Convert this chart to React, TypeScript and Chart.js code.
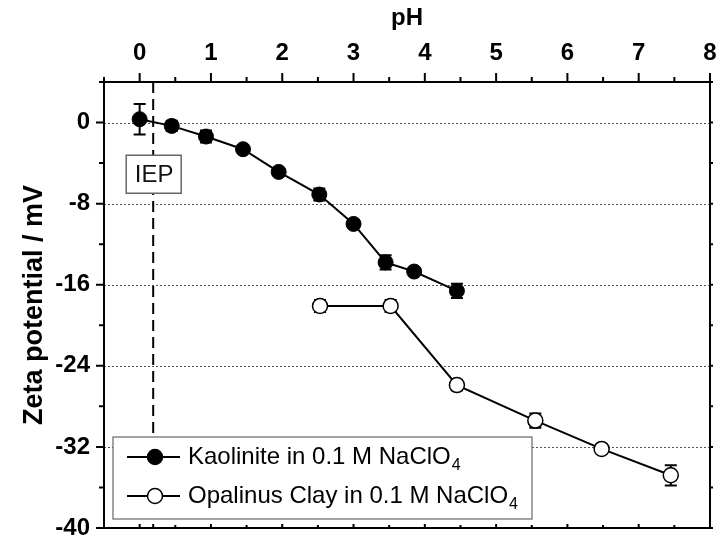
import React, { useEffect, useRef } from 'react';
import { Chart, registerables } from 'chart.js';

Chart.register(...registerables);

// ---- data ----
const kaoliniteLabel = 'Kaolinite in 0.1 M NaClO';
const opalinusLabel = 'Opalinus Clay in 0.1 M NaClO';
const labelSubscript = '4';

const kaolinitePH = [0, 0.45, 0.93, 1.45, 1.95, 2.52, 3.0, 3.45, 3.85, 4.45];
const kaoliniteZeta = [0.33, -0.33, -1.38, -2.63, -4.87, -7.1, -10.0, -13.8, -14.7, -16.6];
const kaoliniteErr = [1.5, 0.5, 0.6, 0.3, 0.3, 0.6, 0.3, 0.7, 0.3, 0.7];

const opalinusPH = [2.53, 3.52, 4.45, 5.55, 6.48, 7.45];
const opalinusZeta = [-18.1, -18.1, -25.9, -29.4, -32.2, -34.8];
const opalinusErr = [0.6, 0.6, 0.5, 0.7, 0.3, 1.0];

const iepPH = 0.19;
const iepLabel = 'IEP';

const xTitle = 'pH';
const yTitle = 'Zeta potential / mV';
const xMin = -0.5;
const xMax = 8;
const yMin = -40;
const yMax = 4;
const xTickValues = [0, 1, 2, 3, 4, 5, 6, 7, 8];
const xMinorValues = [-0.5, 0.5, 1.5, 2.5, 3.5, 4.5, 5.5, 6.5, 7.5];
const yTickValues = [0, -8, -16, -24, -32, -40];
const yMinorValues = [4, -4, -12, -20, -28, -36];
const yGridValues = [0, -8, -16, -24, -32];

const FONT = '"Liberation Sans", Arial, sans-serif';

const decorPlugin = {
  id: 'decor',
  beforeDatasetsDraw(chart: any) {
    const { ctx, chartArea: a, scales } = chart;
    const x = scales.x;
    const y = scales.y;
    ctx.save();
    // dotted gridlines
    ctx.strokeStyle = '#555';
    ctx.lineWidth = 1;
    ctx.setLineDash([2, 2]);
    for (const v of yGridValues) {
      const py = Math.round(y.getPixelForValue(v)) + 0.5;
      ctx.beginPath();
      ctx.moveTo(a.left, py);
      ctx.lineTo(a.right, py);
      ctx.stroke();
    }
    // IEP dashed line
    const ix = x.getPixelForValue(iepPH);
    ctx.strokeStyle = '#000';
    ctx.lineWidth = 2;
    ctx.setLineDash([11, 6]);
    ctx.beginPath();
    ctx.moveTo(ix, a.top);
    ctx.lineTo(ix, a.bottom);
    ctx.stroke();
    ctx.setLineDash([]);
    // error bars
    const errs = [kaoliniteErr, opalinusErr];
    const vals = [kaoliniteZeta, opalinusZeta];
    ctx.strokeStyle = '#000';
    ctx.lineWidth = 2;
    for (let d = 0; d < 2; d++) {
      const meta = chart.getDatasetMeta(d);
      meta.data.forEach((pt: any, j: number) => {
        const top = y.getPixelForValue(vals[d][j] + errs[d][j]);
        const bot = y.getPixelForValue(vals[d][j] - errs[d][j]);
        ctx.beginPath();
        ctx.moveTo(pt.x, top);
        ctx.lineTo(pt.x, bot);
        ctx.moveTo(pt.x - 6, top);
        ctx.lineTo(pt.x + 6, top);
        ctx.moveTo(pt.x - 6, bot);
        ctx.lineTo(pt.x + 6, bot);
        ctx.stroke();
      });
    }
    ctx.restore();
  },
  afterDatasetsDraw(chart: any) {
    const { ctx, chartArea: a, scales } = chart;
    const x = scales.x;
    const y = scales.y;
    ctx.save();
    ctx.strokeStyle = '#000';
    // ticks
    ctx.lineWidth = 2;
    ctx.beginPath();
    for (const v of xTickValues) {
      const px = x.getPixelForValue(v);
      ctx.moveTo(px, a.top);
      ctx.lineTo(px, a.top - 9);
      ctx.moveTo(px, a.bottom);
      ctx.lineTo(px, a.bottom - 4);
    }
    for (const v of xMinorValues) {
      const px = x.getPixelForValue(v);
      ctx.moveTo(px, a.top);
      ctx.lineTo(px, a.top - 5);
      ctx.moveTo(px, a.bottom);
      ctx.lineTo(px, a.bottom - 3);
    }
    for (const v of yTickValues) {
      const py = y.getPixelForValue(v);
      ctx.moveTo(a.left, py);
      ctx.lineTo(a.left - 8, py);
      ctx.moveTo(a.right, py);
      ctx.lineTo(a.right + 3, py);
    }
    for (const v of yMinorValues) {
      const py = y.getPixelForValue(v);
      ctx.moveTo(a.left, py);
      ctx.lineTo(a.left - 5, py);
      ctx.moveTo(a.right, py);
      ctx.lineTo(a.right + 3, py);
    }
    ctx.stroke();
    // frame
    ctx.strokeRect(a.left, a.top, a.right - a.left, a.bottom - a.top);

    // IEP box
    const ix = x.getPixelForValue(iepPH);
    const by = y.getPixelForValue(-5.1);
    ctx.fillStyle = '#fff';
    ctx.fillRect(ix - 27, by - 19, 55, 38);
    ctx.strokeStyle = '#666';
    ctx.lineWidth = 1.5;
    ctx.strokeRect(ix - 27, by - 19, 55, 38);
    ctx.fillStyle = '#111';
    ctx.font = `24px ${FONT}`;
    ctx.textAlign = 'center';
    ctx.textBaseline = 'middle';
    ctx.fillText(iepLabel, ix + 1, by + 1);

    // legend
    const lx = a.left + 9;
    const ly = a.bottom - 91;
    const lw = 419;
    const lh = 82;
    ctx.fillStyle = '#fff';
    ctx.fillRect(lx, ly, lw, lh);
    ctx.strokeStyle = '#666';
    ctx.lineWidth = 1.2;
    ctx.strokeRect(lx, ly, lw, lh);
    const rows = [
      { label: kaoliniteLabel, fill: '#000', cy: ly + 20 },
      { label: opalinusLabel, fill: '#fff', cy: ly + 59 },
    ];
    for (const r of rows) {
      ctx.strokeStyle = '#000';
      ctx.lineWidth = 2;
      ctx.beginPath();
      ctx.moveTo(lx + 14, r.cy);
      ctx.lineTo(lx + 67, r.cy);
      ctx.stroke();
      ctx.beginPath();
      ctx.arc(lx + 42, r.cy, 7.5, 0, Math.PI * 2);
      ctx.fillStyle = r.fill;
      ctx.fill();
      ctx.lineWidth = 1.5;
      ctx.stroke();
      ctx.fillStyle = '#000';
      ctx.textAlign = 'left';
      ctx.textBaseline = 'middle';
      ctx.font = `24px ${FONT}`;
      ctx.fillText(r.label, lx + 75, r.cy);
      const w = ctx.measureText(r.label).width;
      ctx.font = `16px ${FONT}`;
      ctx.fillText(labelSubscript, lx + 75 + w + 1, r.cy + 9);
    }
    ctx.restore();
  },
};

const zeroPad = (s: any) => {
  s.paddingTop = 0;
  s.paddingBottom = 0;
  s.paddingLeft = 0;
  s.paddingRight = 0;
};

export default function App() {
  const ref = useRef<HTMLCanvasElement | null>(null);
  useEffect(() => {
    if (!ref.current) return;
    const chart = new Chart(ref.current, {
      type: 'scatter',
      data: {
        datasets: [
          {
            label: kaoliniteLabel,
            data: kaolinitePH.map((v, i) => ({ x: v, y: kaoliniteZeta[i] })),
            showLine: true,
            borderColor: '#000',
            borderWidth: 2,
            pointRadius: 7.5,
            pointBackgroundColor: '#000',
            pointBorderColor: '#000',
            pointBorderWidth: 1,
          },
          {
            label: opalinusLabel,
            data: opalinusPH.map((v, i) => ({ x: v, y: opalinusZeta[i] })),
            showLine: true,
            borderColor: '#000',
            borderWidth: 2,
            pointRadius: 7.5,
            pointBackgroundColor: '#fff',
            pointBorderColor: '#000',
            pointBorderWidth: 1.5,
          },
        ],
      },
      options: {
        responsive: false,
        animation: false,
        layout: { padding: { top: 0, left: 0, right: 10, bottom: 10 } },
        plugins: { legend: { display: false }, tooltip: { enabled: false } },
        scales: {
          x: {
            type: 'linear',
            position: 'top',
            min: xMin,
            max: xMax,
            afterBuildTicks: (s: any) => {
              s.ticks = xTickValues.map((v) => ({ value: v }));
            },
            afterFit: (s: any) => {
              s.height = 82;
              zeroPad(s);
            },
            grid: { display: false, drawTicks: false },
            border: { display: false },
            ticks: {
              padding: 14,
              color: '#000',
              font: { family: FONT, size: 24, weight: 'bold' },
              maxRotation: 0,
              autoSkip: false,
            },
            title: {
              display: true,
              text: xTitle,
              color: '#000',
              font: { family: FONT, size: 24, weight: 'bold' },
              padding: { top: 4, bottom: 0 },
            },
          },
          y: {
            type: 'linear',
            position: 'left',
            min: yMin,
            max: yMax,
            afterBuildTicks: (s: any) => {
              s.ticks = yTickValues.map((v) => ({ value: v }));
            },
            afterFit: (s: any) => {
              s.width = 104;
              zeroPad(s);
            },
            grid: { display: false, drawTicks: false },
            border: { display: false },
            ticks: {
              padding: 14,
              color: '#000',
              font: { family: FONT, size: 24, weight: 'bold' },
              autoSkip: false,
            },
            title: {
              display: true,
              text: yTitle,
              color: '#000',
              font: { family: FONT, size: 27, weight: 'bold' },
              padding: { top: 18, bottom: 0 },
            },
          },
        },
      },
      plugins: [decorPlugin],
    } as any);
    return () => chart.destroy();
  }, []);
  return (
    <div style={{ position: 'fixed', left: 0, top: 0, width: 720, height: 538, background: '#fff' }}>
      <canvas ref={ref} width={720} height={538} style={{ display: 'block' }} />
    </div>
  );
}
